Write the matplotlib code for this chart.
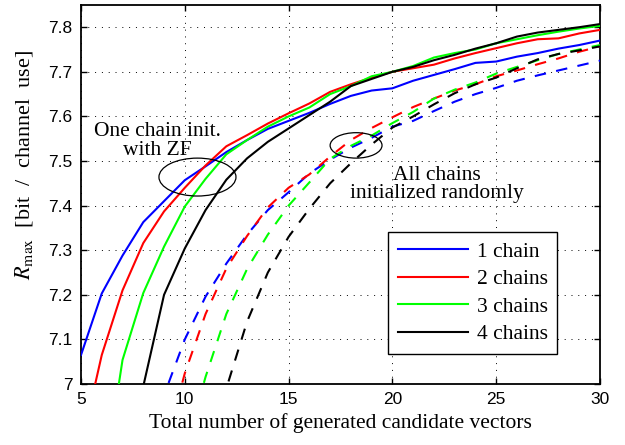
import numpy as np
import matplotlib
matplotlib.use("Agg")
import matplotlib.pyplot as plt
from matplotlib.patches import Ellipse

plt.rcParams['mathtext.fontset'] = 'stix'

n_vec = list(range(5, 31))

# one chain started from the ZF solution (solid)
zf_1 = [7.065, 7.203, 7.288, 7.363, 7.41, 7.457, 7.488, 7.52, 7.547, 7.572, 7.59, 7.608, 7.628,
        7.646, 7.658, 7.663, 7.68, 7.693, 7.706, 7.72, 7.723, 7.734, 7.742, 7.752, 7.76, 7.77]
zf_2 = [6.86, 7.065, 7.21, 7.316, 7.387, 7.44, 7.49, 7.533, 7.558, 7.584, 7.607, 7.629, 7.655,
        7.672, 7.687, 7.70, 7.708, 7.716, 7.73, 7.742, 7.753, 7.764, 7.773, 7.775, 7.786, 7.794]
zf_3 = [6.6, 6.75, 7.054, 7.204, 7.308, 7.398, 7.46, 7.515, 7.547, 7.577, 7.60, 7.62, 7.65,
        7.668, 7.69, 7.70, 7.713, 7.732, 7.742, 7.75, 7.764, 7.773, 7.782, 7.79, 7.797, 7.803]
zf_4 = [6.2, 6.4, 6.6, 6.995, 7.20, 7.304, 7.39, 7.458, 7.506, 7.543, 7.573, 7.603, 7.633,
        7.668, 7.684, 7.70, 7.711, 7.726, 7.738, 7.752, 7.764, 7.779, 7.788, 7.794, 7.80, 7.807]

# all chains started randomly (dashed)
rnd_1 = [6.5, 6.6, 6.7, 6.8, 6.975, 7.10, 7.196, 7.27, 7.335, 7.39, 7.43, 7.472, 7.503,
         7.53, 7.552, 7.577, 7.59, 7.612, 7.633, 7.65, 7.664, 7.68, 7.692, 7.703, 7.714, 7.725]
rnd_2 = [6.4, 6.5, 6.6, 6.7, 6.85, 7.024, 7.157, 7.259, 7.332, 7.396, 7.44, 7.47, 7.51,
         7.547, 7.574, 7.598, 7.621, 7.64, 7.658, 7.672, 7.69, 7.703, 7.717, 7.73, 7.745, 7.757]
rnd_3 = [6.2, 6.3, 6.4, 6.5, 6.6, 6.85, 7.016, 7.157, 7.258, 7.335, 7.40, 7.452, 7.505,
         7.534, 7.557, 7.585, 7.61, 7.64, 7.66, 7.676, 7.696, 7.711, 7.726, 7.74, 7.75, 7.76]
rnd_4 = [6.0, 6.1, 6.2, 6.3, 6.4, 6.5, 6.7, 6.99, 7.14, 7.25, 7.33, 7.393, 7.45,
         7.495, 7.537, 7.575, 7.60, 7.627, 7.652, 7.672, 7.687, 7.708, 7.728, 7.74, 7.748, 7.757]

labels = ['1 chain', '2 chains', '3 chains', '4 chains']
colors = ['#0000ff', '#ff0000', '#00ff00', '#000000']
serif = 'Liberation Serif'

fig = plt.figure(figsize=(6.25, 4.45), dpi=100)
ax = fig.add_axes([0.1296, 0.137, 0.8304, 0.852])

lw = 1.5
lines = []
for ys, c, lab in zip([zf_1, zf_2, zf_3, zf_4], colors, labels):
    l, = ax.plot(n_vec, ys, color=c, lw=lw, label=lab, zorder=3)
    lines.append(l)
for ys, c in zip([rnd_1, rnd_2, rnd_3, rnd_4], colors):
    ax.plot(n_vec, ys, color=c, lw=lw, dashes=(5.5, 5), zorder=3)

ax.set_xlim(5, 30)
ax.set_ylim(7, 7.85)
ax.set_xticks([5, 10, 15, 20, 25, 30])
ax.set_yticks([7, 7.1, 7.2, 7.3, 7.4, 7.5, 7.6, 7.7, 7.8])
ax.set_yticklabels(['7', '7.1', '7.2', '7.3', '7.4', '7.5', '7.6', '7.7', '7.8'])
ax.grid(True, color='black', linestyle=(0, (1, 6)), lw=0.7)
ax.tick_params(direction='in', top=True, right=True, length=4, width=1,
               labelsize=12.5, pad=6)
for lab in ax.get_xticklabels() + ax.get_yticklabels():
    lab.set_family('Liberation Sans')
for s in ax.spines.values():
    s.set_linewidth(1.3)

ax.set_xlabel('Total number of generated candidate vectors', family=serif,
              fontsize=15.5, labelpad=4)
ax.set_ylabel(r'$R_{\max}$  [bit  /  channel  use]', family=serif, fontsize=16)
ax.yaxis.set_label_coords(-0.088, 0.578)

ax.add_patch(Ellipse((10.61, 7.464), 3.71, 0.085, fill=False, ec='black', lw=0.9, zorder=4))
ax.add_patch(Ellipse((18.25, 7.535), 2.5, 0.057, fill=False, ec='black', lw=0.9, zorder=4))
ax.text(8.66, 7.545, 'One chain init.\nwith ZF', ha='center', va='center',
        family=serif, fontsize=15.5, linespacing=0.95)
ax.text(22.15, 7.448, 'All chains\ninitialized randomly', ha='center', va='center',
        family=serif, fontsize=15.5, linespacing=0.95)

leg = ax.legend(handles=lines, loc='lower right', bbox_to_anchor=(0.918, 0.079),
                prop={'family': serif, 'size': 15.5}, fancybox=False,
                edgecolor='black', framealpha=1, handlelength=3.25, labelspacing=0.35,
                borderpad=0.45, handletextpad=0.4, borderaxespad=0)
leg.get_frame().set_linewidth(1.0)

fig.savefig('out.png', dpi=100)
